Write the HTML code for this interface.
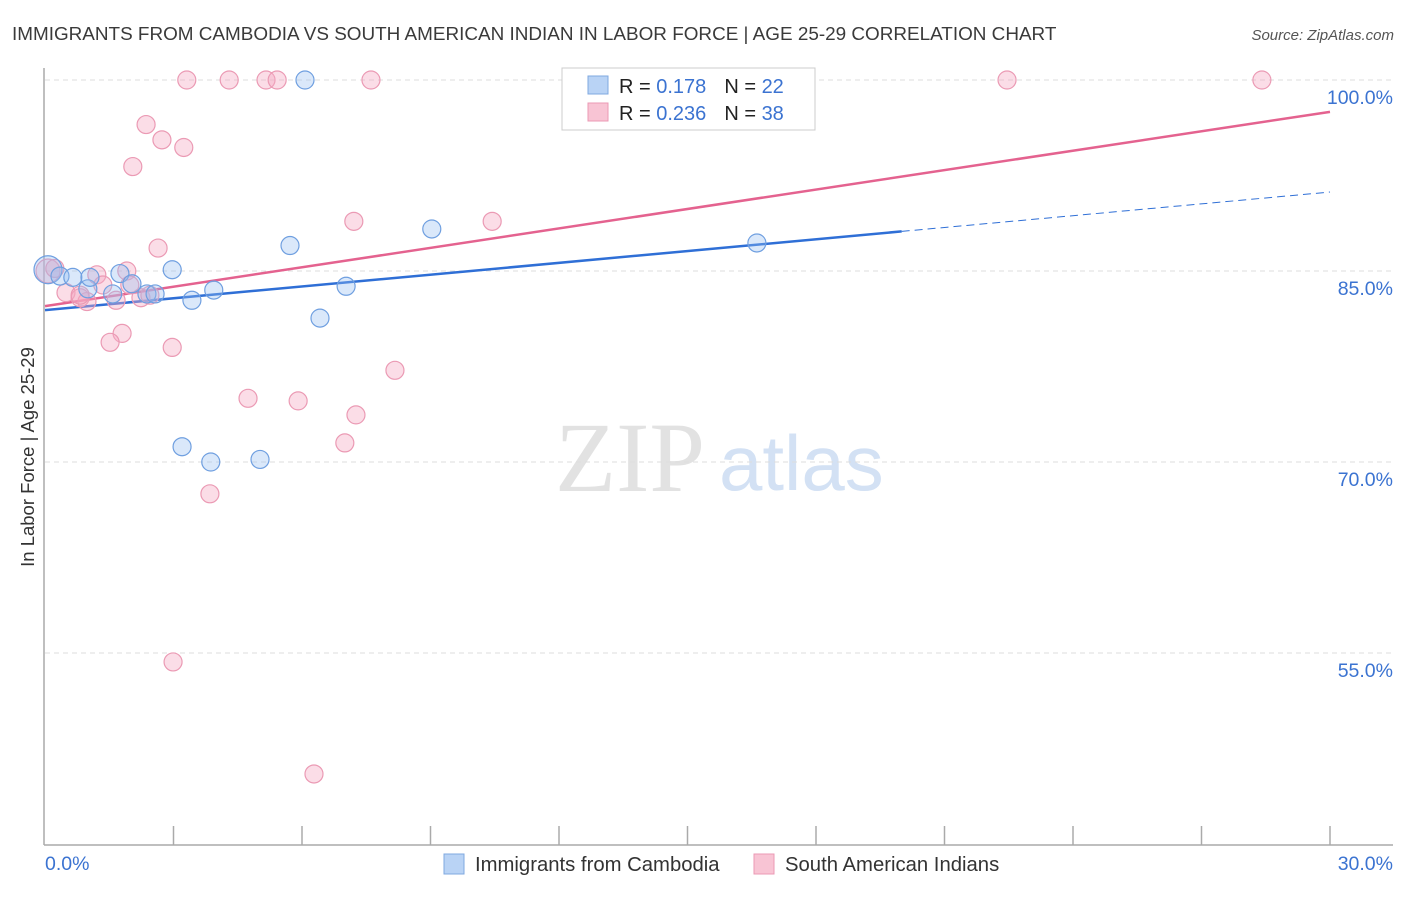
<!DOCTYPE html>
<html><head><meta charset="utf-8">
<style>
body{margin:0;background:#fff;font-family:"Liberation Sans",sans-serif;}
</style></head>
<body>
<svg id="chart" width="1406" height="892" xmlns="http://www.w3.org/2000/svg" font-family="Liberation Sans, sans-serif">
<text x="12" y="40" font-size="18.9" fill="#3a3a3a">IMMIGRANTS FROM CAMBODIA VS SOUTH AMERICAN INDIAN IN LABOR FORCE | AGE 25-29 CORRELATION CHART</text>
<text x="1394" y="40" font-size="15" fill="#555" text-anchor="end" font-style="italic">Source: ZipAtlas.com</text>
<text transform="translate(34,457) rotate(-90)" font-size="18.5" fill="#333" text-anchor="middle">In Labor Force | Age 25-29</text>
<g>
<text x="555" y="491" font-size="100" fill="#e2e2e2" style="font-family:'Liberation Serif',serif">ZIP</text>
<text x="719" y="490" font-size="78" fill="#d3e1f4">atlas</text>
</g>
<g id="grid"></g><g id="axes"></g><g id="lines"></g><g id="pts"></g>
<g>
<rect x="562" y="68" width="253" height="62" fill="#fff" stroke="#ccc"/>
<rect x="588" y="76" width="20" height="18" fill="#b9d3f5" stroke="#7fa8e0"/>
<rect x="588" y="103" width="20" height="18" fill="#f8c4d4" stroke="#eb9ab4"/>
<text x="619" y="93" font-size="20" fill="#222">R = <tspan fill="#3b73d1"> 0.178</tspan><tspan dx="18">N = </tspan><tspan fill="#3b73d1">22</tspan></text>
<text x="619" y="120" font-size="20" fill="#222">R = <tspan fill="#3b73d1">0.236</tspan><tspan dx="18">N = </tspan><tspan fill="#3b73d1">38</tspan></text>
</g>
<g>
<rect x="444" y="854" width="20" height="20" fill="#b9d3f5" stroke="#7fa8e0"/>
<text x="475" y="871" font-size="20.3" fill="#333">Immigrants from Cambodia</text>
<rect x="754" y="854" width="20" height="20" fill="#f8c4d4" stroke="#eb9ab4"/>
<text x="785" y="871" font-size="20.3" fill="#333">South American Indians</text>
</g>
</svg>
<script>
const yTicks=[100,85,70,55];
const yTickLabels=["100.0%","85.0%","70.0%","55.0%"];
const xTickLabels=["0.0%","30.0%"];
const blueX=[0.07,0.35,0.65,1.0,1.58,1.75,2.03,2.38,2.57,2.97,3.43,3.94,5.72,6.07,6.42,7.03,9.03,16.62,3.2,3.87,5.02,1.05];
const blueY=[85.1,84.6,84.5,83.6,83.2,84.8,84.0,83.2,83.2,85.1,82.7,83.5,87.0,100,81.3,83.8,88.3,87.2,71.2,70.0,70.2,84.5];
const pinkX=[3.31,4.3,5.16,5.42,7.61,22.46,28.41,2.36,2.73,3.24,2.05,7.21,10.44,2.64,0.07,0.23,0.49,0.82,0.98,1.21,1.35,1.66,1.91,1.98,2.24,1.8,1.52,2.97,4.74,5.91,7.26,7.0,8.17,3.85,2.99,6.28,0.82,2.45];
const pinkY=[100,100,100,100,100,100,100,96.5,95.3,94.7,93.2,88.9,88.9,86.8,85.0,85.2,83.3,82.9,82.6,84.7,83.9,82.7,85.0,83.9,82.9,80.1,79.4,79.0,75.0,74.8,73.7,71.5,77.2,67.5,54.3,45.5,83.1,83.1];
const blueLine=[81.93,91.2], blueSolidEnd=20;
const pinkLine=[82.24,97.5];
const NS='http://www.w3.org/2000/svg';
const X=v=>45+v*(1285/30), Y=v=>80+(100-v)*(191/15);
function mk(t,a,p){const e=document.createElementNS(NS,t);for(const k in a)e.setAttribute(k,a[k]);document.getElementById(p).appendChild(e);return e;}
yTicks.forEach((t,i)=>{
 const g=mk('line',{x1:45,x2:1393,y1:Y(t),y2:Y(t),stroke:'#ddd','stroke-dasharray':'5,4'},'grid');
 
 
 const l=mk('text',{x:1393,y:Y(t)+24,'font-size':19.5,fill:'#3b73d1','text-anchor':'end'},'axes');
 l.textContent=yTickLabels[i];
 
 
});
const ya=mk('line',{x1:44,x2:44,y1:68,y2:845,stroke:'#aaa','stroke-width':1.5},'axes');


const xa=mk('line',{x1:44,x2:1393,y1:845,y2:845,stroke:'#aaa','stroke-width':1.5},'axes');


for(let i=1;i<=10;i++){const t=mk('line',{x1:X(i*3),x2:X(i*3),y1:826,y2:845,stroke:'#aaa','stroke-width':1.5},'axes');
 
 }
xTickLabels.forEach((s,i)=>{const t=mk('text',{x:i?1393:45,y:870,'font-size':19.5,fill:'#3b73d1','text-anchor':i?'end':'start'},'axes');t.textContent=s;
 
 });
const ly=(L,x)=>L[0]+(L[1]-L[0])*x/30;
let e=mk('line',{x1:X(0),y1:Y(ly(pinkLine,0)),x2:X(30),y2:Y(ly(pinkLine,30)),stroke:'#e4628f','stroke-width':2.5},'lines');


e=mk('line',{x1:X(0),y1:Y(ly(blueLine,0)),x2:X(blueSolidEnd),y2:Y(ly(blueLine,blueSolidEnd)),stroke:'#2f6fd6','stroke-width':2.5},'lines');


e=mk('line',{x1:X(blueSolidEnd),y1:Y(ly(blueLine,blueSolidEnd)),x2:X(30),y2:Y(ly(blueLine,30)),stroke:'#2f6fd6','stroke-width':1,'stroke-dasharray':'8,5'},'lines');


pinkX.forEach((x,i)=>{const c=mk('circle',{cx:X(x),cy:Y(pinkY[i]),r:i==14?12:9,fill:'rgba(244,170,195,0.4)',stroke:'#eb9ab4','stroke-width':1.2},'pts');
 
 });
blueX.forEach((x,i)=>{const c=mk('circle',{cx:X(x),cy:Y(blueY[i]),r:i==0?14:9,fill:'rgba(150,190,240,0.35)',stroke:'#6f9fe0','stroke-width':1.2},'pts');
 
 });
</script>
</body></html>
